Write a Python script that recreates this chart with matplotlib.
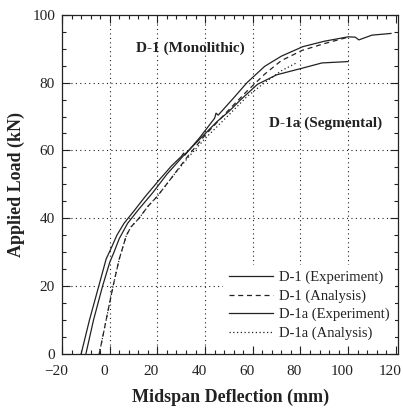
import numpy as np
import matplotlib.pyplot as plt
import matplotlib.transforms as mtransforms
from matplotlib.ticker import MultipleLocator

plt.rcParams['font.family'] = ['Liberation Serif', 'DejaVu Serif']

# D-1 (Experiment)
d1_exp_x = [-12, -8.5, -4.6, -1.5, 0.5, 3, 6, 10, 15, 21, 26, 30, 31, 31.5, 38,
            44, 44.6, 45.5, 52, 57.6, 65, 72, 81, 90, 100, 103, 104.5, 110, 118]
d1_exp_y = [0, 10, 20, 28, 31, 35, 38.5, 42, 46.5, 51.5, 55.5, 58.2, 59.2, 58.6, 64,
            69.5, 71, 70.4, 75.5, 80, 84.8, 87.8, 90.6, 92.2, 93.5, 93.4, 92.6, 94, 94.5]

# D-1 (Analysis)
d1_ana_x = [-4.4, -1.5, 1.4, 4, 7, 9, 12.3, 16, 20, 26, 33, 40, 50, 57.6, 65, 72, 80.7, 90, 100]
d1_ana_y = [0, 10, 20, 28, 35, 37.5, 40, 43.5, 46.5, 52, 58.5, 64.5, 72, 77.5, 82.5, 86.5, 89.5, 91.5, 93.4]

# D-1a (Experiment)
d1a_exp_x = [-10, -6.8, -3, 0, 1.8, 4, 7.5, 12, 18, 24, 31, 38, 45, 50, 55, 62, 70, 81, 89, 100]
d1a_exp_y = [0, 10, 20, 27, 30, 34, 38.5, 42.5, 47.5, 53, 58.5, 63.5, 68.5, 71.5, 75, 79.5, 82.3, 84.3, 85.8, 86.2]

# D-1a (Analysis)
d1a_ana_x = [-4.4, -1.5, 1.4, 4, 7, 9, 12.3, 16, 20, 26, 33, 40, 50, 57.6, 65, 72, 78]
d1a_ana_y = [0, 10, 20, 28, 35, 37.5, 40, 43.5, 46.5, 52, 58, 63.5, 70.5, 75.9, 80, 83.5, 85.7]

x_ticks = [-20, 0, 20, 40, 60, 80, 100, 120]
y_ticks = [0, 20, 40, 60, 80, 100]
grid_x = [0, 20, 40, 60, 80, 100]
grid_y = [20, 40, 60, 80]

ink = '#222222'

fig = plt.figure(figsize=(4.03, 4.11), dpi=100)
ax = fig.add_axes([0.154, 0.139, 0.834, 0.825])

for gx in grid_x:
    ax.axvline(gx, color=ink, lw=0.8, ls=(0, (1, 3)), zorder=1)
for gy in grid_y:
    ax.axhline(gy, color=ink, lw=0.8, ls=(0, (1, 3)), zorder=1)

ax.plot(d1_exp_x, d1_exp_y, color=ink, lw=0.9, ls='-', label='D-1 (Experiment)', zorder=3)
ax.plot(d1_ana_x, d1_ana_y, color=ink, lw=0.9, ls=(0, (4, 3)), label='D-1 (Analysis)', zorder=3)
ax.plot(d1a_exp_x, d1a_exp_y, color=ink, lw=0.9, ls='-', label='D-1a (Experiment)', zorder=3)
ax.plot(d1a_ana_x, d1a_ana_y, color=ink, lw=0.9, ls=(0, (1, 2)), label='D-1a (Analysis)', zorder=3)

ax.text(33.7, 90, 'D-1 (Monolithic)', fontsize=11, fontweight='bold', color=ink,
        ha='center', va='center')
ax.text(90.5, 68, 'D-1a (Segmental)', fontsize=11, fontweight='bold', color=ink,
        ha='center', va='center')

ax.set_xlim(-20, 121)
ax.set_ylim(0, 100)
ax.set_xticks(x_ticks)
ax.set_yticks(y_ticks)
ax.xaxis.set_minor_locator(MultipleLocator(4))
ax.yaxis.set_minor_locator(MultipleLocator(5))
ax.tick_params(which='both', direction='in', top=True, right=True, colors=ink,
               labelsize=11, width=0.8)
ax.tick_params(which='major', length=6)
ax.tick_params(axis='x', which='major', pad=8)
ax.tick_params(axis='y', which='major', pad=5)
ax.tick_params(which='minor', length=3)
for s in ax.spines.values():
    s.set_color(ink)
    s.set_linewidth(0.9)

# labels in the scan sit a little left of their ticks
shift = mtransforms.ScaledTranslation(-0.06, 0, fig.dpi_scale_trans)
for lab in ax.get_xticklabels():
    lab.set_transform(lab.get_transform() + shift)

ax.set_xlabel('Midspan Deflection (mm)', fontsize=13, fontweight='bold', color=ink, labelpad=8)
ax.set_ylabel('Applied Load (kN)', fontsize=13, fontweight='bold', color=ink, labelpad=5)

leg = ax.legend(loc='lower right', bbox_to_anchor=(1.0, 0.015), frameon=True,
                fontsize=10.5, handlelength=3.0, handletextpad=0.4, labelspacing=0.35,
                borderpad=0.4, borderaxespad=0.2)
leg.get_frame().set_facecolor('white')
leg.get_frame().set_edgecolor('none')
leg.get_frame().set_alpha(1)
leg.set_zorder(4)
for t in leg.get_texts():
    t.set_color(ink)

fig.savefig('out.png', dpi=100)
